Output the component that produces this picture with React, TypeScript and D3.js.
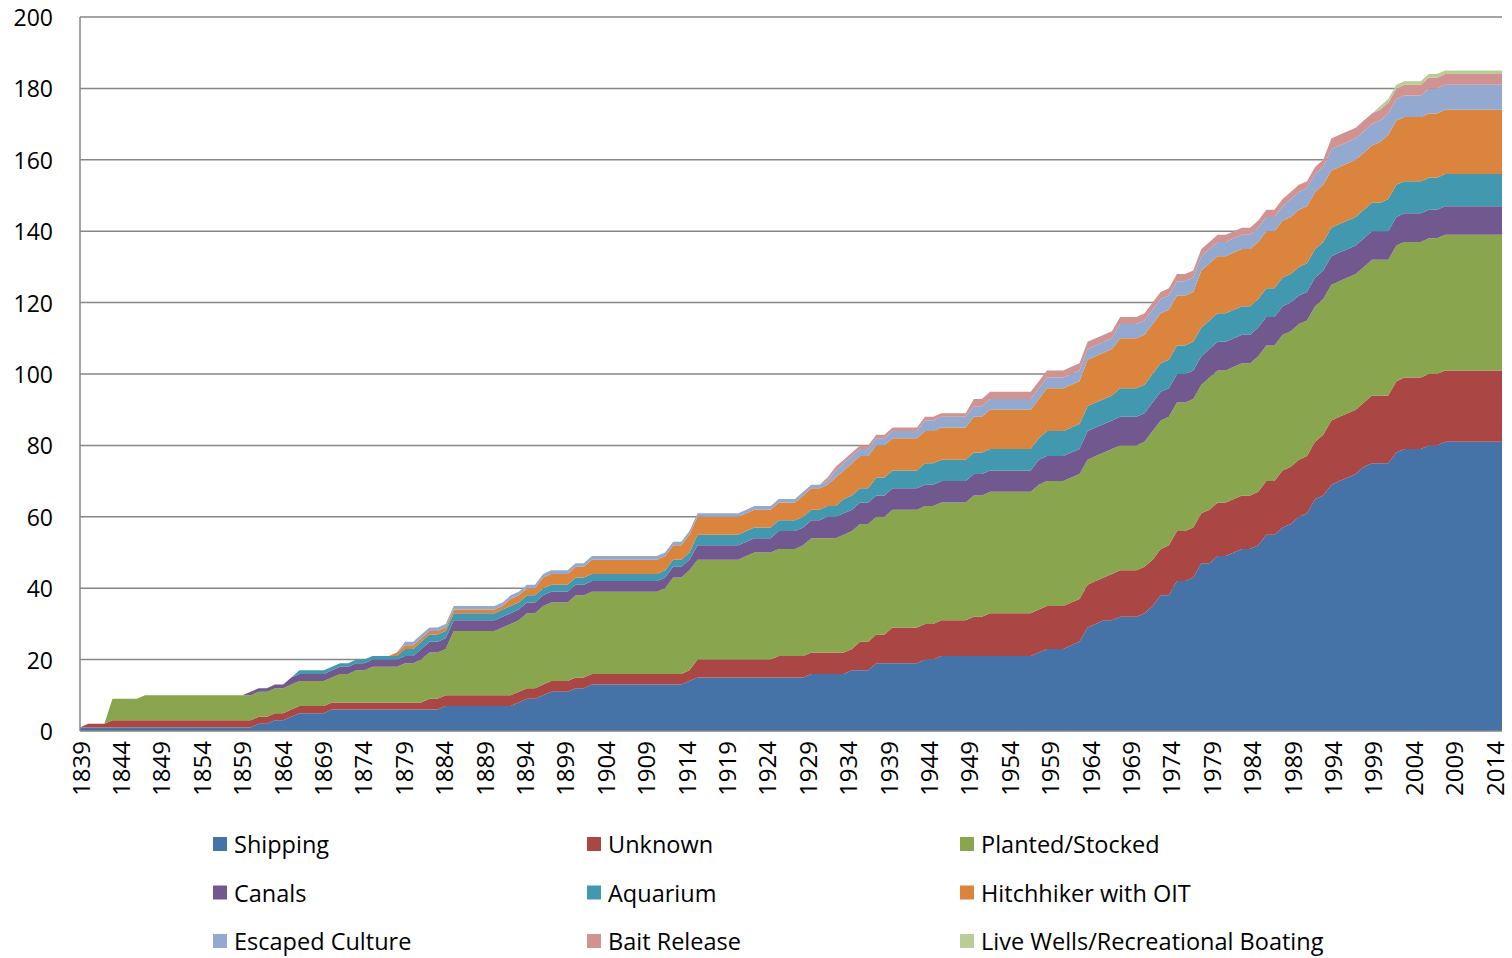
import React from "react";
import * as d3 from "d3";

// cumulative number of species per vector, one value per year 1839..2014
const years = d3.range(1839, 2015);

const shipping = [
  1, 1, 1, 1, 1, 1, 1, 1, 1, 1, // 1839
  1, 1, 1, 1, 1, 1, 1, 1, 1, 1, // 1849
  1, 1, 2, 2, 3, 3, 4, 5, 5, 5, // 1859
  5, 6, 6, 6, 6, 6, 6, 6, 6, 6, // 1869
  6, 6, 6, 6, 6, 7, 7, 7, 7, 7, // 1879
  7, 7, 7, 7, 8, 9, 9, 10, 11, 11, // 1889
  11, 12, 12, 13, 13, 13, 13, 13, 13, 13, // 1899
  13, 13, 13, 13, 13, 14, 15, 15, 15, 15, // 1909
  15, 15, 15, 15, 15, 15, 15, 15, 15, 15, // 1919
  16, 16, 16, 16, 16, 17, 17, 17, 19, 19, // 1929
  19, 19, 19, 19, 20, 20, 21, 21, 21, 21, // 1939
  21, 21, 21, 21, 21, 21, 21, 21, 22, 23, // 1949
  23, 23, 24, 25, 29, 30, 31, 31, 32, 32, // 1959
  32, 33, 35, 38, 38, 42, 42, 43, 47, 47, // 1969
  49, 49, 50, 51, 51, 52, 55, 55, 57, 58, // 1979
  60, 61, 65, 66, 69, 70, 71, 72, 74, 75, // 1989
  75, 75, 78, 79, 79, 79, 80, 80, 81, 81, // 1999
  81, 81, 81, 81, 81, 81, // 2009
];

const unknown = [
  0, 1, 1, 1, 2, 2, 2, 2, 2, 2,
  2, 2, 2, 2, 2, 2, 2, 2, 2, 2,
  2, 2, 2, 2, 2, 2, 2, 2, 2, 2,
  2, 2, 2, 2, 2, 2, 2, 2, 2, 2,
  2, 2, 2, 3, 3, 3, 3, 3, 3, 3,
  3, 3, 3, 3, 3, 3, 3, 3, 3, 3,
  3, 3, 3, 3, 3, 3, 3, 3, 3, 3,
  3, 3, 3, 3, 3, 3, 5, 5, 5, 5,
  5, 5, 5, 5, 5, 5, 6, 6, 6, 6,
  6, 6, 6, 6, 6, 6, 8, 8, 8, 8,
  10, 10, 10, 10, 10, 10, 10, 10, 10, 10,
  11, 11, 12, 12, 12, 12, 12, 12, 12, 12,
  12, 12, 12, 12, 12, 12, 12, 13, 13, 13,
  13, 13, 13, 13, 14, 14, 14, 14, 14, 15,
  15, 15, 15, 15, 15, 15, 15, 15, 16, 16,
  16, 16, 16, 17, 18, 18, 18, 18, 18, 19,
  19, 19, 20, 20, 20, 20, 20, 20, 20, 20,
  20, 20, 20, 20, 20, 20,
];

const planted = [
  0, 0, 0, 0, 6, 6, 6, 6, 7, 7,
  7, 7, 7, 7, 7, 7, 7, 7, 7, 7,
  7, 7, 7, 7, 7, 7, 7, 7, 7, 7,
  7, 7, 8, 8, 9, 9, 10, 10, 10, 10,
  11, 11, 12, 13, 13, 13, 18, 18, 18, 18,
  18, 18, 19, 20, 20, 21, 21, 22, 22, 22,
  22, 23, 23, 23, 23, 23, 23, 23, 23, 23,
  23, 23, 24, 27, 27, 28, 28, 28, 28, 28,
  28, 28, 29, 30, 30, 30, 30, 30, 30, 31,
  32, 32, 32, 32, 33, 33, 33, 33, 33, 33,
  33, 33, 33, 33, 33, 33, 33, 33, 33, 33,
  34, 34, 34, 34, 34, 34, 34, 34, 35, 35,
  35, 35, 35, 35, 35, 35, 35, 35, 35, 35,
  35, 35, 36, 36, 36, 36, 36, 36, 36, 37,
  37, 37, 37, 37, 37, 38, 38, 38, 38, 38,
  38, 38, 38, 38, 38, 38, 38, 38, 38, 38,
  38, 38, 38, 38, 38, 38, 38, 38, 38, 38,
  38, 38, 38, 38, 38, 38,
];

const canals = [
  0, 0, 0, 0, 0, 0, 0, 0, 0, 0,
  0, 0, 0, 0, 0, 0, 0, 0, 0, 0,
  0, 1, 1, 1, 1, 1, 2, 2, 2, 2,
  2, 2, 2, 2, 2, 2, 2, 2, 2, 2,
  2, 2, 3, 3, 3, 3, 3, 3, 3, 3,
  3, 3, 3, 3, 3, 3, 3, 3, 3, 3,
  3, 3, 3, 3, 3, 3, 3, 3, 3, 3,
  3, 3, 3, 3, 3, 3, 4, 4, 4, 4,
  4, 4, 4, 4, 4, 4, 5, 5, 5, 5,
  5, 5, 6, 6, 6, 6, 6, 6, 6, 6,
  6, 6, 6, 6, 6, 6, 6, 6, 6, 6,
  6, 6, 6, 6, 6, 6, 6, 6, 7, 7,
  7, 7, 7, 7, 8, 8, 8, 8, 8, 8,
  8, 8, 8, 8, 8, 8, 8, 8, 8, 8,
  8, 8, 8, 8, 8, 8, 8, 8, 8, 8,
  8, 8, 8, 8, 8, 8, 8, 8, 8, 8,
  8, 8, 8, 8, 8, 8, 8, 8, 8, 8,
  8, 8, 8, 8, 8, 8,
];

const aquarium = [
  0, 0, 0, 0, 0, 0, 0, 0, 0, 0,
  0, 0, 0, 0, 0, 0, 0, 0, 0, 0,
  0, 0, 0, 0, 0, 0, 0, 1, 1, 1,
  1, 1, 1, 1, 1, 1, 1, 1, 1, 1,
  2, 2, 2, 2, 2, 2, 2, 2, 2, 2,
  2, 2, 2, 2, 2, 2, 2, 2, 2, 2,
  2, 2, 2, 2, 2, 2, 2, 2, 2, 2,
  2, 2, 2, 2, 2, 2, 3, 3, 3, 3,
  3, 3, 3, 3, 3, 3, 3, 3, 3, 3,
  3, 3, 3, 3, 4, 4, 4, 4, 5, 5,
  5, 5, 5, 5, 6, 6, 6, 6, 6, 6,
  6, 6, 6, 6, 6, 6, 6, 6, 6, 7,
  7, 7, 7, 7, 7, 7, 7, 7, 8, 8,
  8, 8, 8, 8, 8, 8, 8, 8, 8, 8,
  8, 8, 8, 8, 8, 8, 8, 8, 8, 8,
  8, 8, 8, 8, 8, 8, 8, 8, 8, 8,
  8, 9, 9, 9, 9, 9, 9, 9, 9, 9,
  9, 9, 9, 9, 9, 9,
];

const hitchhiker = [
  0, 0, 0, 0, 0, 0, 0, 0, 0, 0,
  0, 0, 0, 0, 0, 0, 0, 0, 0, 0,
  0, 0, 0, 0, 0, 0, 0, 0, 0, 0,
  0, 0, 0, 0, 0, 0, 0, 0, 0, 1,
  1, 1, 1, 1, 1, 1, 1, 1, 1, 1,
  1, 1, 1, 2, 2, 2, 2, 3, 3, 3,
  3, 3, 3, 4, 4, 4, 4, 4, 4, 4,
  4, 4, 4, 4, 4, 5, 5, 5, 5, 5,
  5, 5, 5, 5, 5, 5, 5, 5, 5, 6,
  6, 6, 6, 8, 8, 9, 9, 9, 9, 9,
  9, 9, 9, 9, 9, 9, 9, 9, 9, 9,
  10, 10, 11, 11, 11, 11, 11, 11, 11, 12,
  12, 12, 12, 12, 13, 13, 13, 13, 14, 14,
  14, 14, 14, 14, 14, 14, 14, 14, 16, 16,
  16, 16, 16, 16, 16, 16, 16, 16, 16, 16,
  16, 16, 16, 16, 16, 16, 16, 16, 16, 16,
  17, 18, 18, 18, 18, 18, 18, 18, 18, 18,
  18, 18, 18, 18, 18, 18,
];

const escaped = [
  0, 0, 0, 0, 0, 0, 0, 0, 0, 0,
  0, 0, 0, 0, 0, 0, 0, 0, 0, 0,
  0, 0, 0, 0, 0, 0, 0, 0, 0, 0,
  0, 0, 0, 0, 0, 0, 0, 0, 0, 0,
  1, 1, 1, 1, 1, 1, 1, 1, 1, 1,
  1, 1, 1, 1, 1, 1, 1, 1, 1, 1,
  1, 1, 1, 1, 1, 1, 1, 1, 1, 1,
  1, 1, 1, 1, 1, 1, 1, 1, 1, 1,
  1, 1, 1, 1, 1, 1, 1, 1, 1, 1,
  1, 1, 1, 2, 2, 2, 2, 2, 2, 2,
  2, 2, 2, 2, 3, 3, 3, 3, 3, 3,
  3, 3, 3, 3, 3, 3, 3, 3, 3, 3,
  3, 3, 3, 3, 3, 3, 3, 3, 4, 4,
  4, 4, 4, 4, 4, 4, 4, 4, 4, 4,
  4, 4, 4, 4, 4, 4, 4, 4, 4, 5,
  5, 5, 5, 5, 6, 6, 6, 6, 6, 6,
  6, 6, 6, 6, 6, 6, 7, 7, 7, 7,
  7, 7, 7, 7, 7, 7,
];

const bait = [
  0, 0, 0, 0, 0, 0, 0, 0, 0, 0,
  0, 0, 0, 0, 0, 0, 0, 0, 0, 0,
  0, 0, 0, 0, 0, 0, 0, 0, 0, 0,
  0, 0, 0, 0, 0, 0, 0, 0, 0, 0,
  0, 0, 0, 0, 0, 0, 0, 0, 0, 0,
  0, 0, 0, 0, 0, 0, 0, 0, 0, 0,
  0, 0, 0, 0, 0, 0, 0, 0, 0, 0,
  0, 0, 0, 0, 0, 0, 0, 0, 0, 0,
  0, 0, 0, 0, 0, 0, 0, 0, 0, 0,
  0, 0, 1, 1, 1, 1, 1, 1, 1, 1,
  1, 1, 1, 1, 1, 1, 1, 1, 1, 1,
  2, 2, 2, 2, 2, 2, 2, 2, 2, 2,
  2, 2, 2, 2, 2, 2, 2, 2, 2, 2,
  2, 2, 2, 2, 2, 2, 2, 2, 2, 2,
  2, 2, 2, 2, 2, 2, 2, 2, 2, 2,
  2, 2, 2, 2, 3, 3, 3, 3, 3, 3,
  3, 3, 3, 3, 3, 3, 3, 3, 3, 3,
  3, 3, 3, 3, 3, 3,
];

const liveWells = [
  0, 0, 0, 0, 0, 0, 0, 0, 0, 0,
  0, 0, 0, 0, 0, 0, 0, 0, 0, 0,
  0, 0, 0, 0, 0, 0, 0, 0, 0, 0,
  0, 0, 0, 0, 0, 0, 0, 0, 0, 0,
  0, 0, 0, 0, 0, 0, 0, 0, 0, 0,
  0, 0, 0, 0, 0, 0, 0, 0, 0, 0,
  0, 0, 0, 0, 0, 0, 0, 0, 0, 0,
  0, 0, 0, 0, 0, 0, 0, 0, 0, 0,
  0, 0, 0, 0, 0, 0, 0, 0, 0, 0,
  0, 0, 0, 0, 0, 0, 0, 0, 0, 0,
  0, 0, 0, 0, 0, 0, 0, 0, 0, 0,
  0, 0, 0, 0, 0, 0, 0, 0, 0, 0,
  0, 0, 0, 0, 0, 0, 0, 0, 0, 0,
  0, 0, 0, 0, 0, 0, 0, 0, 0, 0,
  0, 0, 0, 0, 0, 0, 0, 0, 0, 0,
  0, 0, 0, 0, 0, 0, 0, 0, 0, 0,
  1, 1, 1, 1, 1, 1, 1, 1, 1, 1,
  1, 1, 1, 1, 1, 1,
];

const seriesNames = [
  "Shipping",
  "Unknown",
  "Planted/Stocked",
  "Canals",
  "Aquarium",
  "Hitchhiker with OIT",
  "Escaped Culture",
  "Bait Release",
  "Live Wells/Recreational Boating",
];
const seriesValues = [shipping, unknown, planted, canals, aquarium, hitchhiker, escaped, bait, liveWells];
const colors = ["#4572A7", "#AA4643", "#89A54E", "#71588F", "#4198AF", "#DB843D", "#93A9CF", "#D19392", "#B9CD96"];

const yTicks = [0, 20, 40, 60, 80, 100, 120, 140, 160, 180, 200];
const xTickYears = years.filter((y) => (y - 1839) % 5 === 0);

const FONT = "'Open Sans', sans-serif";

export default function App() {
  const left = 80, right = 1502, top = 17, bottom = 731;
  const x = d3.scaleLinear().domain([1839, 2014]).range([left, right]);
  const y = d3.scaleLinear().domain([0, 200]).range([bottom, top]);
  // category labels sit slightly inside the last point, as in the source chart
  const xLabel = d3.scaleLinear().domain([1839, 2014]).range([left, right - 8]);

  const rows = years.map((yr, i) => {
    const r: any = { year: yr };
    seriesNames.forEach((n, k) => (r[n] = seriesValues[k][i]));
    return r;
  });
  const stacked = d3.stack().keys(seriesNames)(rows);
  const area = d3
    .area<any>()
    .x((d) => x(d.data.year))
    .y0((d) => y(d[0]))
    .y1((d) => y(d[1]));

  return (
    <svg width={1512} height={958} style={{ position: "absolute", left: 0, top: 0, background: "#fff" }} fontFamily={FONT}>
      {/* gridlines */}
      {yTicks.slice(1).map((t) => (
        <line key={t} x1={left} x2={right} y1={y(t)} y2={y(t)} stroke="#868686" strokeWidth={1.5} />
      ))}
      {stacked.map((s, i) => (
        <path key={s.key} d={area(s as any) || ""} fill={colors[i]} />
      ))}
      {/* axes */}
      <line x1={left} x2={left} y1={top} y2={bottom} stroke="#868686" strokeWidth={1.5} />
      <line x1={left} x2={right} y1={bottom} y2={bottom} stroke="#868686" strokeWidth={1.5} />
      {yTicks.map((t) => (
        <text key={t} x={53} y={y(t)} textAnchor="end" dominantBaseline="central" fontSize={23} fill="#000">
          {t}
        </text>
      ))}
      {xTickYears.map((yr) => (
        <text
          key={yr}
          transform={`translate(${xLabel(yr)},${bottom + 10}) rotate(-90)`}
          textAnchor="end"
          dominantBaseline="central"
          fontSize={24}
          fill="#000"
        >
          {yr}
        </text>
      ))}
      {/* legend */}
      {seriesNames.map((n, i) => {
        const cx = [213, 587, 960][i % 3];
        const cy = 844 + Math.floor(i / 3) * 48.5;
        return (
          <g key={n}>
            <rect x={cx} y={cy - 7} width={14} height={14} fill={colors[i]} />
            <text x={cx + 21} y={cy} dominantBaseline="central" fontSize={23.5} fill="#000">
              {n}
            </text>
          </g>
        );
      })}
    </svg>
  );
}
